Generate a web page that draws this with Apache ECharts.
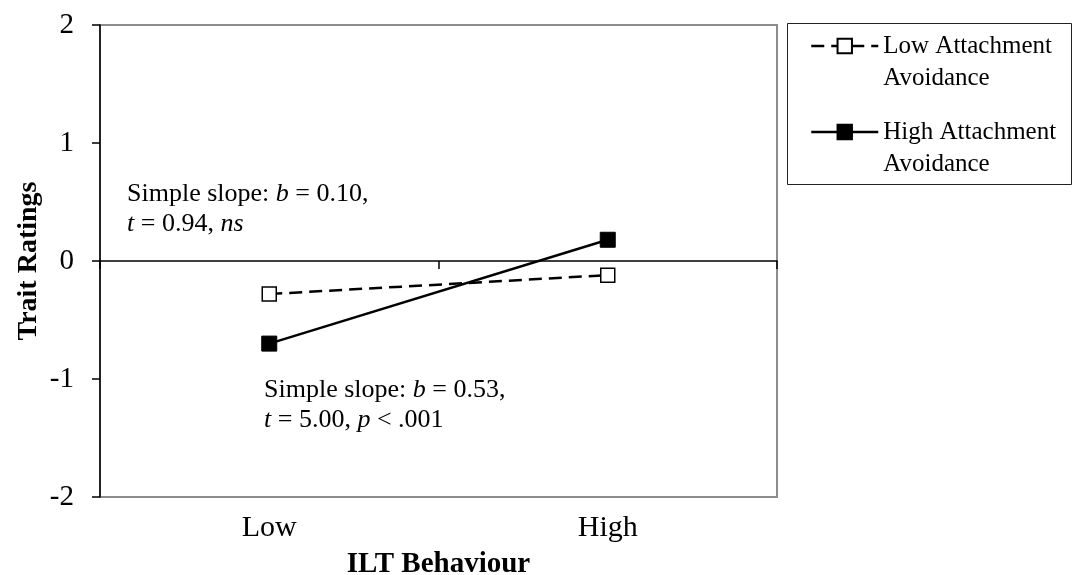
<!DOCTYPE html>
<html>
<head>
<meta charset="utf-8">
<script src="https://cdn.jsdelivr.net/npm/echarts@6/dist/echarts.min.js"></script>
<style>
  html, body { margin: 0; padding: 0; background: #fff; }
  #chart { width: 1073px; height: 575px; }
</style>
</head>
<body>
<div id="chart"></div>
<script>
// ILT behaviour categories and trait-rating means per attachment-avoidance group
const categories = ['Low', 'High'];
const lowAvoidance = [-0.28, -0.12];
const highAvoidance = [-0.70, 0.18];
const seriesNames = ['Low Attachment Avoidance', 'High Attachment Avoidance'];
const yRange = { min: -2, max: 2, interval: 1 };

const FONT = '"Liberation Serif", "Times New Roman", serif';

const chart = echarts.init(document.getElementById('chart'), null, { renderer: 'canvas' });

// Legend labels wrap onto two lines; a leading blank line keeps the symbol
// level with the first line of text.
const legendCommon = {
  orient: 'vertical',
  left: 810,
  padding: 0,
  itemWidth: 67,
  itemHeight: 18,
  itemGap: 0,
  selectedMode: false,
  formatter: name => '\n' + name.replace(' Avoidance', '\nAvoidance'),
  textStyle: {
    fontFamily: FONT,
    fontSize: 25,
    color: '#000',
    lineHeight: 32
  },
  lineStyle: { width: 2.5 }
};

const richText = {
  n: { fontFamily: FONT, fontSize: 26, lineHeight: 30, fill: '#000' },
  i: { fontFamily: FONT, fontSize: 26, fontStyle: 'italic', lineHeight: 30, fill: '#000' }
};

chart.setOption({
  animation: false,
  backgroundColor: '#fff',
  grid: {
    left: 100,
    right: 296,
    top: 25,
    bottom: 78,
    show: true,
    borderColor: '#8c8c8c',
    borderWidth: 2,
    containLabel: false,
    outerBoundsMode: 'none'
  },
  legend: [
    Object.assign({}, legendCommon, { top: -2, data: [seriesNames[0]] }),
    Object.assign({}, legendCommon, { top: 84, data: [seriesNames[1]] })
  ],
  xAxis: [
    {
      type: 'category',
      data: categories,
      position: 'bottom',
      axisLine: { show: false, onZero: false },
      axisTick: { show: false },
      axisLabel: { fontFamily: FONT, fontSize: 30, color: '#000', margin: 16 },
      name: 'ILT Behaviour',
      nameLocation: 'middle',
      nameGap: 53,
      nameTextStyle: { fontFamily: FONT, fontSize: 29, fontWeight: 'bold', color: '#000' }
    },
    {
      // zero baseline crossing the plot, with category boundary ticks
      type: 'category',
      data: categories,
      position: 'top',
      axisLine: { show: true, onZero: true, lineStyle: { color: '#000', width: 1.5 } },
      axisTick: { show: true, inside: true, length: 8, lineStyle: { color: '#000', width: 1.5 } },
      axisLabel: { show: false }
    }
  ],
  yAxis: {
    type: 'value',
    min: yRange.min,
    max: yRange.max,
    interval: yRange.interval,
    axisLine: { show: true, onZero: false, lineStyle: { color: '#000', width: 1.5 } },
    axisTick: { show: true, length: 8, lineStyle: { color: '#000', width: 1.5 } },
    splitLine: { show: false },
    axisLabel: { fontFamily: FONT, fontSize: 29, color: '#000', margin: 26 },
    name: 'Trait Ratings',
    nameLocation: 'middle',
    nameGap: 57,
    nameMoveOverlap: false,
    nameTextStyle: { fontFamily: FONT, fontSize: 28, fontWeight: 'bold', color: '#000' }
  },
  series: [
    {
      name: seriesNames[0],
      type: 'line',
      xAxisIndex: 0,
      data: lowAvoidance,
      symbol: 'rect',
      symbolSize: 14,
      itemStyle: { color: '#fff', borderColor: '#000', borderWidth: 1.5 },
      lineStyle: { color: '#000', width: 2.5, type: [13, 7] }
    },
    {
      name: seriesNames[1],
      type: 'line',
      xAxisIndex: 0,
      data: highAvoidance,
      symbol: 'rect',
      symbolSize: 15,
      itemStyle: { color: '#000', borderColor: '#000', borderWidth: 1 },
      lineStyle: { color: '#000', width: 2.5 }
    }
  ],
  graphic: [
    {
      // legend frame
      type: 'rect',
      shape: { x: 787.5, y: 23.5, width: 284, height: 161 },
      style: { fill: 'none', stroke: '#222', lineWidth: 1 },
      silent: true
    },
    {
      type: 'text',
      left: 127,
      top: 181,
      silent: true,
      style: {
        text: '{n|Simple slope: }{i|b}{n| = 0.10,}\n{i|t}{n| = 0.94, }{i|ns}',
        rich: richText
      }
    },
    {
      type: 'text',
      left: 264,
      top: 377,
      silent: true,
      style: {
        text: '{n|Simple slope: }{i|b}{n| = 0.53,}\n{i|t}{n| = 5.00, }{i|p}{n| < .001}',
        rich: richText
      }
    }
  ]
});
</script>
</body>
</html>
